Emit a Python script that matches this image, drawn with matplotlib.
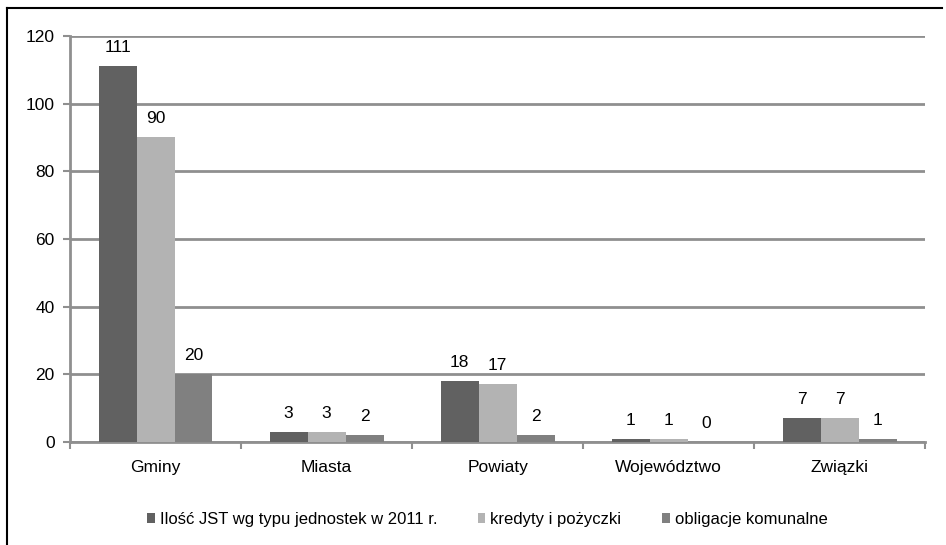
import matplotlib.pyplot as plt
import numpy as np
from matplotlib.lines import Line2D

plt.rcParams['font.family'] = ['Liberation Sans', 'DejaVu Sans']

categories = ['Gminy', 'Miasta', 'Powiaty', 'Województwo', 'Związki']
series_names = ['Ilość JST wg typu jednostek w 2011 r.', 'kredyty i pożyczki', 'obligacje komunalne']
ilosc_jst = [111, 3, 18, 1, 7]
kredyty = [90, 3, 17, 1, 7]
obligacje = [20, 2, 2, 0, 1]
yticks = [0, 20, 40, 60, 80, 100, 120]

colors = ['#616161', '#b3b3b3', '#808080']
grid_col = '#8f8f8f'

fig = plt.figure(figsize=(9.46, 5.45), dpi=100)
ax = fig.add_axes([0.074, 0.189, 0.904, 0.745])

x = np.arange(len(categories))
w = 0.222
for i, (vals, name) in enumerate(zip([ilosc_jst, kredyty, obligacje], series_names)):
    pos = x + (i - 1) * w
    ax.bar(pos, vals, width=w, color=colors[i], label=name, zorder=3)
    for p, v in zip(pos, vals):
        ax.annotate(str(v), (p, v), xytext=(0, 8), textcoords='offset points',
                    ha='center', va='bottom', fontsize=12.5)

ax.set_xlim(-0.5, len(categories) - 0.5)
ax.set_ylim(0, 120)
ax.set_yticks(yticks)
ax.tick_params(axis='y', labelsize=12.5, length=5, width=1.5, color=grid_col, pad=6)
ax.set_xticks(x)
ax.set_xticklabels(categories)
ax.set_xticks(np.arange(len(categories) + 1) - 0.5, minor=True)
ax.tick_params(axis='x', which='major', length=0, labelsize=12.5, pad=13)
ax.tick_params(axis='x', which='minor', length=5, width=1.5, color=grid_col)
ax.yaxis.grid(True, color=grid_col, linewidth=2, zorder=0)

for s in ['top', 'right']:
    ax.spines[s].set_visible(False)
for s in ['left', 'bottom']:
    ax.spines[s].set_color(grid_col)
    ax.spines[s].set_linewidth(2)

ax.legend(loc='upper center', bbox_to_anchor=(0.488, -0.135), ncol=3, frameon=False,
          fontsize=12, handlelength=0.45, handleheight=0.5, handletextpad=0.3,
          columnspacing=2.45)

# border of the picture
fig.add_artist(Line2D([0.0074, 0.0074], [0.0, 0.985], color='black', linewidth=1.5,
                      transform=fig.transFigure))
fig.add_artist(Line2D([0.0074, 0.996], [0.985, 0.985], color='black', linewidth=1.5,
                      transform=fig.transFigure))

fig.savefig('out.png', dpi=100)
